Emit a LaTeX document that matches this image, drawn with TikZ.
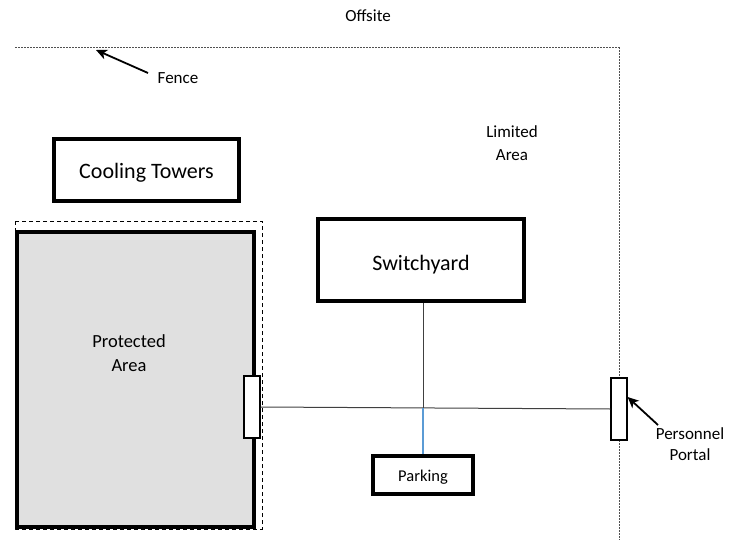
\documentclass[tikz,border=0pt]{standalone}
\usepackage{fontspec}
\setmainfont{Carlito}
\usetikzlibrary{arrows.meta}
\definecolor{areagray}{HTML}{E0E0E0}
\definecolor{lightblue}{HTML}{5B9BD5}
\definecolor{fencegray}{HTML}{505050}
\tikzset{
  bigbox/.style={draw=black, line width=3.5pt, fill=white, inner sep=0pt},
  gatebox/.style={draw=black, line width=1.2pt, fill=white, inner sep=0pt},
  fenceline/.style={draw=fencegray, line width=1pt, dash pattern=on 2pt off 1pt},
  paline/.style={draw=black, line width=1pt, dash pattern=on 4pt off 3pt},
  conn/.style={draw=black!75, line width=1pt},
  pointer/.style={draw=black, line width=1.8pt, -{Stealth[length=11pt,width=10pt,inset=3pt]}},
  lbl/.style={font=\fontsize{17}{23}\selectfont, align=center, inner sep=0pt},
  biglbl/.style={font=\fontsize{22}{26}\selectfont, inner sep=0pt},
}
\begin{document}
\begin{tikzpicture}[x=1pt,y=-1pt]
\useasboundingbox (0,0) rectangle (735,540);
% fence
\coordinate (fenceL) at (15,48);
\coordinate (fenceC) at (619,48);
\coordinate (fenceB) at (619,540);
\draw[fenceline] (fenceL) -- (fenceC) -- (fenceB);
% labels
\node[lbl] (offsite) at (368,16) {Offsite};
\node[lbl] (fencelbl) at (178,78) {Fence};
\coordinate (fencetip) at (96,50);
\coordinate (fencetail) at (148,73);
\draw[pointer] (fencetail) -- (fencetip);
\node[lbl] (limited) at (512,143) {Limited\\Area};
% protected area dashed outline
\coordinate (paTL) at (15,221);
\coordinate (paBR) at (262,529);
\draw[paline] (paTL) rectangle (paBR);
\node[bigbox, fill=areagray, minimum width=237pt, minimum height=295pt] (pa) at (135.5,379.5) {};
\node[lbl, font=\fontsize{18.5}{24}\selectfont] (palbl) at (129,353) {Protected\\Area};
% cooling towers
\node[bigbox, minimum width=185pt, minimum height=62pt] (ct) at (146.5,170) {};
\node[biglbl] (ctlbl) at (146.5,173) {Cooling Towers};
% switchyard
\node[bigbox, minimum width=206pt, minimum height=82pt] (sw) at (421,260) {};
\node[biglbl] (swlbl) at (421,265) {Switchyard};
% parking
\node[bigbox, minimum width=100pt, minimum height=38pt] (park) at (423,475) {};
\node[lbl, font=\fontsize{16.5}{20}\selectfont] (parklbl) at (423,477) {Parking};
% gate and portal
\node[gatebox, minimum width=16pt, minimum height=62pt] (gate) at (252,407) {};
\node[gatebox, minimum width=16pt, minimum height=62pt] (portal) at (619,409) {};
\coordinate (junction) at (423,408);
\draw[conn] (gate.east) -- (portal.west);
\draw[conn] (junction) -- (junction |- sw.south);
\draw[draw=lightblue, line width=1.1pt] (junction) -- (junction |- park.north);
% personnel portal label
\node[lbl, font=\fontsize{17}{21}\selectfont] (pplbl) at (690,444) {Personnel\\Portal};
\coordinate (pptail) at (658,425);
\draw[pointer] (pptail) -- (portal.east |- 0,397);
\end{tikzpicture}
\end{document}
